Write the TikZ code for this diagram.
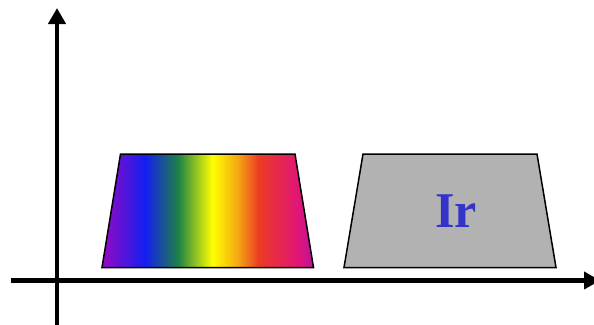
\documentclass[tikz,border=0pt]{standalone}
\usepackage{fontspec}
\setmainfont{Liberation Serif}
\usetikzlibrary{arrows.meta}
\definecolor{rpurple}{RGB}{150,10,195}
\definecolor{rblue}{RGB}{20,30,240}
\definecolor{rgreen}{RGB}{30,130,70}
\definecolor{ryellow}{RGB}{255,255,0}
\definecolor{rorange}{RGB}{245,165,20}
\definecolor{rred}{RGB}{235,60,35}
\definecolor{rpink}{RGB}{225,20,120}
\definecolor{rpurple2}{RGB}{185,20,155}
\definecolor{irblue}{RGB}{51,51,204}
\definecolor{irgray}{RGB}{178,178,178}
\pgfdeclarehorizontalshading{rainbow}{100bp}{
  color(0bp)=(rpurple); color(25bp)=(rpurple); color(35.2bp)=(rblue);
  color(43bp)=(rgreen); color(51.1bp)=(ryellow); color(57.2bp)=(rorange);
  color(62bp)=(rred); color(71.4bp)=(rpink); color(75bp)=(rpurple2);
  color(100bp)=(rpurple2)}
\tikzset{
  axisline/.style={line width=4.5pt,-{Triangle[length=16pt,width=17pt]}},
  trap/.style={draw=black,line width=1.5pt,line join=miter},
}
\begin{document}
\begin{tikzpicture}[x=1pt,y=-1pt]
\useasboundingbox (0,0) rectangle (594,324);
% axes
\coordinate (ybot) at (57,326);
\coordinate (ytop) at (57,8);
\coordinate (xleft) at (11,280.5);
\coordinate (xright) at (600,280.5);
\draw[axisline] (ybot) -- (ytop);
\draw[axisline] (xleft) -- (xright);
% rainbow trapezoid
\coordinate (a1) at (102,267.5);
\coordinate (a2) at (120.5,154);
\coordinate (a3) at (295,154);
\coordinate (a4) at (313.5,267.5);
\path[shading=rainbow] (a1) -- (a2) -- (a3) -- (a4) -- cycle;
\draw[trap] (a1) -- (a2) -- (a3) -- (a4) -- cycle;
% gray trapezoid
\coordinate (b1) at (344,267.5);
\coordinate (b2) at (363,154);
\coordinate (b3) at (537,154);
\coordinate (b4) at (556,267.5);
\draw[trap,fill=irgray] (b1) -- (b2) -- (b3) -- (b4) -- cycle;
\node[text=irblue,font=\fontsize{50}{60}\selectfont\bfseries,inner sep=0pt] (ir) at (456,211) {Ir};
\end{tikzpicture}
\end{document}
